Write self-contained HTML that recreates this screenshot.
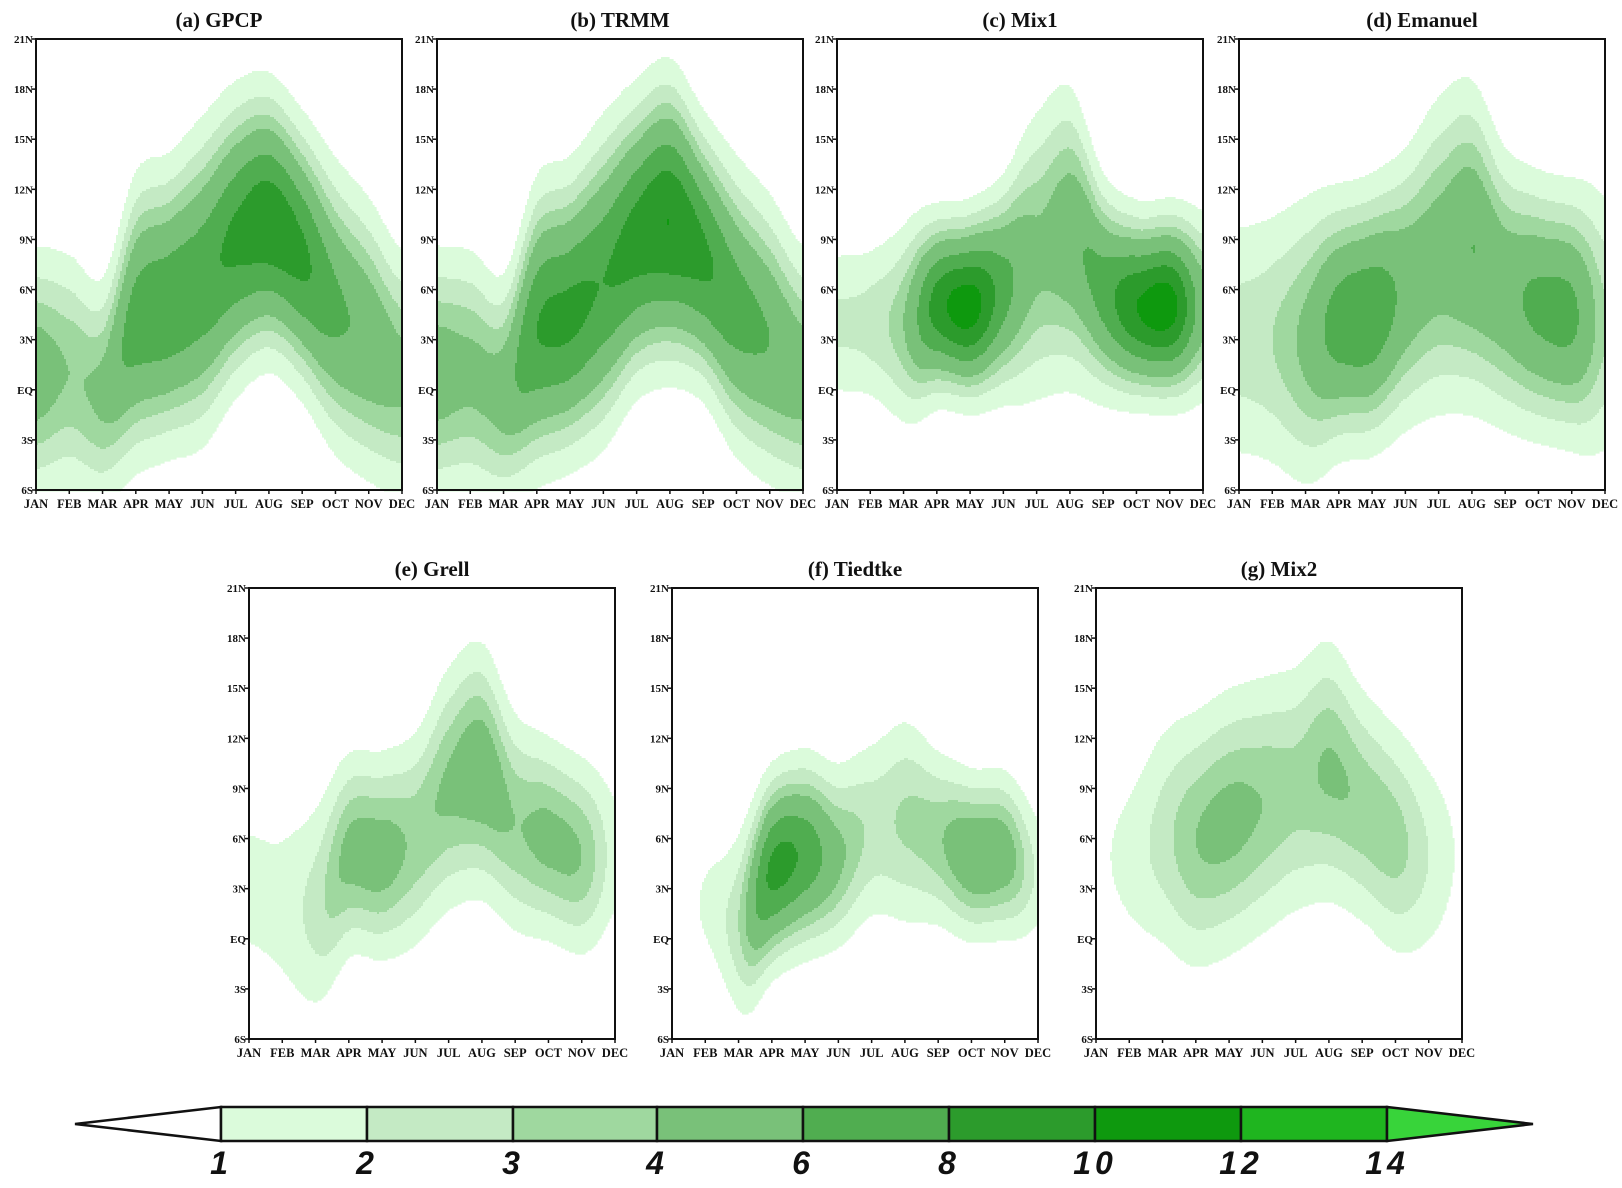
<!DOCTYPE html>
<html><head><meta charset="utf-8">
<style>
html,body{margin:0;padding:0;background:#fff;}
svg{display:block;}
text{font-family:"Liberation Serif",serif;font-weight:bold;fill:#111;}
</style></head>
<body>
<svg id="fig" width="1622" height="1188" viewBox="0 0 1622 1188"></svg>
<script>
// ---- data arrays (monthly rain-band parameters per panel) ----
const months = ["JAN","FEB","MAR","APR","MAY","JUN","JUL","AUG","SEP","OCT","NOV","DEC"];
const latTicks = ["21N","18N","15N","12N","9N","6N","3N","EQ","3S","6S"];
const levels = [1,2,3,4,6,8,10,12,14];
const levelLabels = ["1","2","3","4","6","8","10","12","14"];
const levelColors = ["#ffffff","#dbfbdb","#c4eac4","#9fd89f","#79c179","#50ad50","#2c9b2c","#0e990e","#1fb51f","#38d43a"];
const titles = ["(a)  GPCP","(b)  TRMM","(c)  Mix1","(d)  Emanuel","(e)  Grell","(f)  Tiedtke","(g)  Mix2"];
const centerA = [1,1,0,4,5,6.5,9,10,8,5,3,1];
const peakA   = [5,4,4.5,7,7.5,7.5,8.5,9.5,8.5,6.5,5.5,4.5];
const widthA  = [6,6,5.5,6.5,6.5,7,6.5,6,6,6.5,6.5,6];
const centerB = [1,1,0,3.5,4.5,6.5,9,10,8,5,3,1];
const peakB   = [5,4.5,5,8,8.5,8,9,10,8.5,7,6,5];
const widthB  = [6,6,5.5,6.5,6.5,7,6.5,6.5,6,6.5,6.5,6];
const centerC = [4,4,4,5,5,6,8,9,6,5,5,5];
const peakC   = [2.2,2.5,4,9,11,7,4.5,5.5,7,10,11,5];
const widthC  = [4.5,4.5,5,4.2,4.2,5,7,7,5,4.2,4.2,4.5];
const centerD = [3,3,3,4,4.5,6,8,8.5,6,5,4.5,4];
const peakD   = [2.5,3,4.5,7,7.5,5.5,5,6,5.5,6.5,6.5,3.2];
const widthD  = [7,7,7,6,6,6.5,7.5,7.5,6.5,6,6,7];
const centerE = [3,2,2,5,5,6,9,10,7,6,5,5];
const peakE   = [1.5,1.5,2.5,4.5,4.8,3.8,4.3,5.2,4,4.5,4,1.5];
const widthE  = [5,6,6,5,5,5.5,6,6,5.5,5,5,5];
const centerF = [2,2,1,4,5,5,6.5,7,6,5,5,4];
const peakF   = [0.5,1.2,3,8.5,7.5,4.5,2.8,3.2,3.8,5.5,5,1.8];
const widthF  = [4,4,5,4.5,4.5,4.5,5,5.5,4.5,4,4,4];
const centerG = [5,5,6,6,7,8,9,10,8,6,5,5];
const peakG   = [0.8,1.4,2.5,4,4.5,4,3.5,4.2,3.8,3.5,2,0.8];
const widthG  = [6,6,6.5,6.5,6.5,6.5,6.5,6.5,6,6,6,6];
const centers = [centerA,centerB,centerC,centerD,centerE,centerF,centerG];
const peaks   = [peakA,peakB,peakC,peakD,peakE,peakF,peakG];
const widths  = [widthA,widthB,widthC,widthD,widthE,widthF,widthG];

// ---- layout ----
const panelX = [36,437,837,1239,249,672,1096];
const panelY = [39,39,39,39,588,588,588];
const PW = 366, PH = 451;
const NS = "http://www.w3.org/2000/svg";
const svg = document.getElementById("fig");
function mk(tag, attrs, parent){const e=document.createElementNS(NS,tag);for(const k in attrs)e.setAttribute(k,attrs[k]);(parent||svg).appendChild(e);return e;}
function cr(arr, t){
  const i=Math.max(0,Math.min(10,Math.floor(t))), f=t-i;
  const p0=arr[Math.max(0,i-1)],p1=arr[i],p2=arr[i+1],p3=arr[Math.min(11,i+2)];
  return 0.5*((2*p1)+(-p0+p2)*f+(2*p0-5*p1+4*p2-p3)*f*f+(-p0+3*p1-3*p2+p3)*f*f*f);
}
function colorIdx(v){let k=0;for(let i=0;i<levels.length;i++){if(v>=levels[i])k=i+1;}return k;}

for(let p=0;p<7;p++){
  const x0=panelX[p], y0=panelY[p];
  const g=mk("g",{});
  
  
  const xs=t=>x0+t/11*PW;
  const ys=lat=>y0+(21-lat)/27*PH;
  const field=mk("g",{},g);
  
  
  const step=2;
  for(let py=0;py<PH;py+=step){
    const lat=21-(py+step/2)/PH*27;
    let runStart=0, runC=-1;
    for(let px=0;px<=PW;px+=step){
      let c=-1;
      if(px<PW){
        const t=(px+step/2)/PW*11;
        const cen=cr(centers[p],t), pk=cr(peaks[p],t), w=cr(widths[p],t);
        const d=(lat-cen)/w;
        c=colorIdx(pk*Math.exp(-d*d));
      }
      if(c!==runC){
        if(runC>0){mk("rect",{x:x0+runStart,y:y0+py,width:px-runStart+0.6,height:step+0.6,fill:levelColors[runC]},field);}
        runStart=px; runC=c;
      }
    }
  }
  const fr=mk("rect",{x:x0,y:y0,width:PW,height:PH,fill:"none",stroke:"#111","stroke-width":2},g);
  
  
  const tt=mk("text",{x:x0+PW/2,y:y0-12,"text-anchor":"middle","font-size":21},g);
  tt.textContent=titles[p];
  
  
  latTicks.forEach((lab,i)=>{
    const yy=ys(21-3*i);
    mk("line",{x1:x0-4,x2:x0,y1:yy,y2:yy,stroke:"#111","stroke-width":1.5},g);
    const t=mk("text",{x:x0-3,y:yy+4,"text-anchor":"end","font-size":11},g);
    t.textContent=lab;
    
    
  });
  months.forEach((m,i)=>{
    const xx=xs(i);
    mk("line",{x1:xx,x2:xx,y1:y0+PH,y2:y0+PH+4,stroke:"#111","stroke-width":1.5},g);
    const t=mk("text",{x:xx,y:y0+PH+18,"text-anchor":"middle","font-size":12.5},g);
    t.textContent=m;
    
    
  });
}

// ---- colorbar ----
const cb=mk("g",{});


const cbX=[221,367,513,657,803,949,1095,1241,1387];
const cbTop=1107, cbBot=1141, cbMid=1124;
const lt=mk("polygon",{points:`75,${cbMid} ${cbX[0]},${cbTop} ${cbX[0]},${cbBot}`,fill:levelColors[0],stroke:"#111","stroke-width":2.5},cb);


for(let i=0;i<8;i++){
  const r=mk("rect",{x:cbX[i],y:cbTop,width:cbX[i+1]-cbX[i],height:cbBot-cbTop,fill:levelColors[i+1],stroke:"#111","stroke-width":2.5},cb);
  
  
}
const rt=mk("polygon",{points:`${cbX[8]},${cbTop} 1533,${cbMid} ${cbX[8]},${cbBot}`,fill:levelColors[9],stroke:"#111","stroke-width":2.5},cb);


levelLabels.forEach((l,i)=>{
  const t=mk("text",{x:cbX[i],y:1174,"text-anchor":"middle","font-size":32,"font-style":"italic","letter-spacing":"4"},cb);
  t.setAttribute("style","font-family:'Liberation Sans',sans-serif;font-weight:bold;");
  t.textContent=l;
  
  
});
</script>
</body></html>
